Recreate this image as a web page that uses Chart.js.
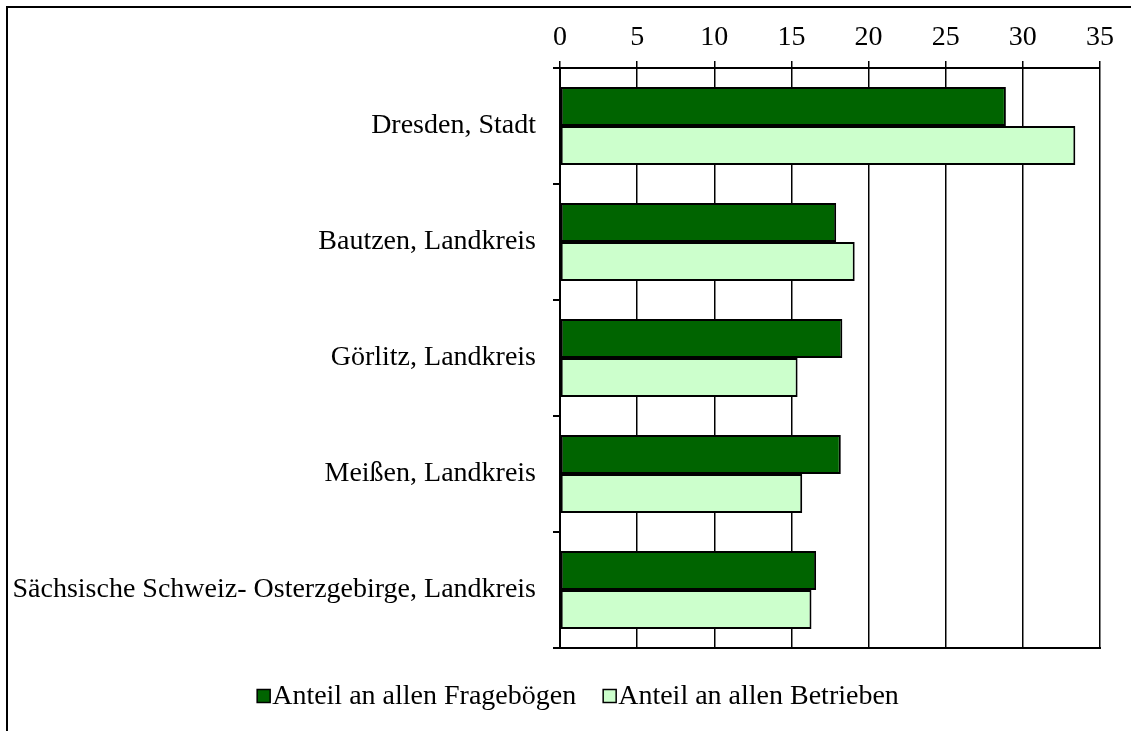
<!DOCTYPE html>
<html>
<head>
<meta charset="utf-8">
<script src="https://cdn.jsdelivr.net/npm/chart.js@4/dist/chart.umd.min.js"></script>
<style>
  html, body { margin: 0; padding: 0; background: #fff; }
  #wrap { position: relative; width: 1131px; height: 731px; overflow: hidden; }
  #frame { position: absolute; left: 6px; top: 6px; width: 1200px; height: 800px; border-left: 2px solid #000; border-top: 2px solid #000; }
  canvas { position: absolute; left: 0; top: 0; }
</style>
</head>
<body>
<div id="wrap">
  <div id="frame"></div>
  <canvas id="c" width="1131" height="731"></canvas>
</div>
<script>
const categories = [
  "Dresden, Stadt",
  "Bautzen, Landkreis",
  "Görlitz, Landkreis",
  "Meißen, Landkreis",
  "Sächsische Schweiz- Osterzgebirge, Landkreis"
];
const seriesNames = ["Anteil an allen Fragebögen", "Anteil an allen Betrieben"];
const anteilFrageboegen = [28.9, 17.9, 18.3, 18.2, 16.6];
const anteilBetriebe = [33.4, 19.1, 15.4, 15.7, 16.3];
const xTicks = [0, 5, 10, 15, 20, 25, 30, 35];

const FAMILY = "'Liberation Serif', 'Times New Roman', serif";
const FONT = { family: FAMILY, size: 28 };
const LEGEND_SIZE = 28;

const legendPlugin = {
  id: 'customLegend',
  afterDraw(chart) {
    const ctx = chart.ctx;
    ctx.save();
    ctx.font = LEGEND_SIZE + 'px ' + FAMILY;
    ctx.textBaseline = 'middle';
    const box = 13, gap = 2, itemGap = 27;
    const items = chart.data.datasets.map(ds => ({
      text: ds.label, fill: ds.backgroundColor, w: ctx.measureText(ds.label).width
    }));
    let total = 0;
    items.forEach((it, i) => { total += box + gap + it.w + (i ? itemGap : 0); });
    let x = 578 - total / 2;
    const y = 696;
    items.forEach((it, i) => {
      if (i) x += itemGap;
      ctx.fillStyle = it.fill;
      ctx.fillRect(x, y - box / 2, box, box);
      ctx.lineWidth = 1.5;
      ctx.strokeStyle = '#000';
      ctx.strokeRect(x, y - box / 2, box, box);
      x += box + gap;
      ctx.fillStyle = '#000';
      ctx.fillText(it.text, x, y + 1);
      x += it.w;
    });
    ctx.restore();
  }
};

new Chart(document.getElementById('c'), {
  type: 'bar',
  data: {
    labels: categories,
    datasets: [
      { label: seriesNames[0], data: anteilFrageboegen, backgroundColor: '#006400', borderColor: '#000', borderWidth: 2, borderSkipped: false },
      { label: seriesNames[1], data: anteilBetriebe, backgroundColor: '#CCFFCC', borderColor: '#000', borderWidth: 2, borderSkipped: false }
    ]
  },
  options: {
    indexAxis: 'y',
    responsive: false,
    animation: false,
    devicePixelRatio: 1,
    layout: { padding: { left: 0, right: 31, top: 0, bottom: 83 } },
    datasets: { bar: { categoryPercentage: 0.672, barPercentage: 1 } },
    plugins: { legend: { display: false }, tooltip: { enabled: false } },
    scales: {
      x: {
        position: 'top',
        min: 0, max: 35,
        afterBuildTicks: (s) => { s.ticks = xTicks.map(v => ({ value: v })); },
        afterFit: (s) => { s.height = 68; },
        ticks: { color: '#000', font: FONT, padding: 7, maxRotation: 0 },
        grid: { color: '#000', lineWidth: 1.5, tickLength: 7, drawTicks: true },
        border: { color: '#000', width: 2 }
      },
      x2: {
        position: 'bottom',
        min: 0, max: 35,
        afterFit: (s) => { s.height = 0; },
        ticks: { display: false },
        grid: { display: false },
        border: { color: '#000', width: 2 }
      },
      y: {
        afterFit: (s) => { s.width = 560; },
        ticks: { color: '#000', font: FONT, padding: 17, crossAlign: 'near' },
        grid: { drawOnChartArea: false, drawTicks: true, tickLength: 7, color: '#000', lineWidth: 2, offset: true },
        border: { color: '#000', width: 2 }
      }
    }
  },
  plugins: [legendPlugin]
});
</script>
</body>
</html>
